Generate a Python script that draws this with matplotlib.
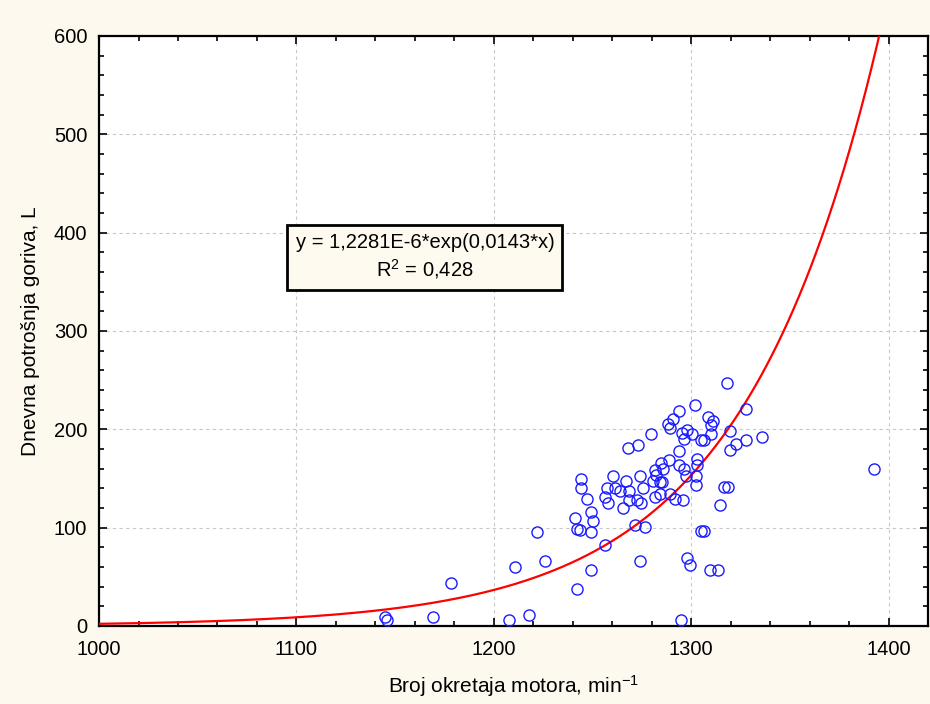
import numpy as np
import matplotlib.pyplot as plt
from matplotlib.ticker import MultipleLocator

# engine speed (min^-1) and daily fuel consumption (L)
rpm = [1144.7, 1146, 1169.2, 1178.3, 1207.8, 1217.9, 1210.7, 1221.8, 1225.9,
       1318.3, 1302, 1293.9, 1327.6, 1291, 1288, 1289.3, 1308.6, 1311.2, 1309.8,
       1297.6, 1295.4, 1300.5, 1296.4, 1279.7, 1309.8, 1304.7, 1306.4, 1319.6,
       1327.6, 1322.5, 1319.6, 1272.8, 1267.8, 1293.9, 1302.9, 1303, 1288.8,
       1284.9, 1285.9, 1293.9, 1296.1, 1281.7, 1281.9, 1297.5, 1302.5, 1302.5,
       1244.2, 1244.2, 1260.4, 1266.7, 1273.8, 1280.7, 1284, 1285.3, 1257.4,
       1261.6, 1264, 1268.5, 1275.8, 1256.3, 1257.7, 1247.2, 1268.5, 1272.4,
       1274.4, 1265.5, 1281.7, 1284.1, 1289, 1291.9, 1296, 1316.4, 1318.6,
       1314.4, 1249.2, 1250.4, 1241.1, 1242.1, 1243.5, 1249.2, 1271.7, 1276.6,
       1305.1, 1306.4, 1256.3, 1273.8, 1249.2, 1242.1, 1298, 1299.2, 1309.6,
       1313.8, 1294.9, 1335.7, 1392.4]
fuel = [9.5, 5.7, 9.5, 44, 5.7, 11, 60.3, 95, 66.4,
        247.5, 225, 218.6, 221, 210.5, 205, 201.7, 212.9, 208.4, 204.4,
        199.3, 196.6, 195, 190.5, 195, 195, 188.8, 188.8, 198.3,
        188.8, 184.7, 178.6, 184.4, 180.4, 178.3, 170.2, 163.7, 168.2,
        165.7, 159.6, 163.7, 160, 158.3, 153.2, 151.9, 151.9, 143.7,
        149.8, 139.7, 151.9, 147.8, 151.9, 147.8, 145.8, 145.8, 139.7,
        139.7, 137.6, 137.6, 139.7, 131.5, 125.4, 129.5, 127.5, 127.5,
        125.4, 119.6, 131.5, 133.6, 133.6, 129.5, 127.5, 141.7, 141.7,
        123.4, 115.3, 106.7, 109.2, 99, 97, 95, 103, 101,
        96.5, 96.5, 82.3, 66.4, 56.6, 37.9, 68.8, 62.4, 56.3,
        56.3, 6, 192.2, 160]

# fitted model y = a*exp(b*x) (b unrounded, the label shows it rounded)
a, b = 1.2281e-6, 0.01434
fit_text = 'y = 1,2281E-6*exp(0,0143*x)\nR$\\mathregular{^2}$ = 0,428'

bg = '#fdf9ef'
sans = ['Liberation Sans', 'DejaVu Sans']
fig = plt.figure(figsize=(9.3, 7.04), dpi=100, facecolor=bg)
ax = fig.add_axes([0.1065, 0.111, 0.8915, 0.838])
ax.set_facecolor('white')

xs = np.linspace(1000, 1420, 600)
ax.plot(xs, a * np.exp(b * xs), color='#ff0000', lw=1.6, zorder=3)
ax.plot(rpm, fuel, 'o', mfc='none', mec='#1a1aff', ms=8, mew=1.0, zorder=4)

ax.set_xlim(1000, 1420)
ax.set_ylim(0, 600)
ax.xaxis.set_major_locator(MultipleLocator(100))
ax.xaxis.set_minor_locator(MultipleLocator(20))
ax.yaxis.set_major_locator(MultipleLocator(100))
ax.yaxis.set_minor_locator(MultipleLocator(20))
ax.tick_params(which='both', direction='in', top=True, right=True,
               labeltop=False, labelright=False, width=1.2, colors='black')
ax.tick_params(which='major', length=6, labelsize=14.5)
ax.tick_params(axis='x', which='major', pad=10)
ax.tick_params(axis='y', which='major', pad=8.5)
ax.tick_params(which='minor', length=3.5)
for lab in ax.get_xticklabels() + ax.get_yticklabels():
    lab.set_family(sans)
ax.grid(True, which='major', ls=(0, (3, 3)), color='#c8c8c8', lw=0.8)
for s in ax.spines.values():
    s.set_linewidth(1.6)
    s.set_color('black')

ax.set_xlabel('Broj okretaja motora, min$\\mathregular{^{-1}}$', fontsize=15,
              family=sans, labelpad=10)
ax.set_ylabel('Dnevna potrošnja goriva, L', fontsize=15, family=sans,
              labelpad=10)

ax.text(0.393, 0.625, fit_text, transform=ax.transAxes, ha='center', va='center',
        fontsize=14.5, family=sans, linespacing=1.3, zorder=5,
        bbox=dict(boxstyle='square,pad=0.4', fc='#fffaf0', ec='black', lw=2))

fig.savefig('out.png', dpi=100, facecolor=bg)
